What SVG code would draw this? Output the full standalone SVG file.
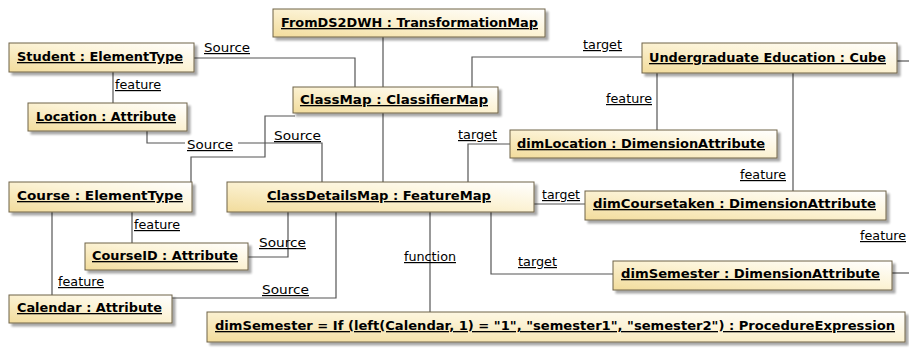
<svg xmlns="http://www.w3.org/2000/svg" width="909" height="348" viewBox="0 0 909 348">
<defs>
<linearGradient id="fill" x1="0" y1="1" x2="1" y2="0">
<stop offset="0" stop-color="#F2DC9C"/>
<stop offset="0.55" stop-color="#FCF3D6"/>
<stop offset="1" stop-color="#FFFFFF"/>
</linearGradient>
<filter id="sh" x="-5%" y="-20%" width="115%" height="160%">
<feOffset in="SourceAlpha" dx="3" dy="3" result="o"/>
<feGaussianBlur in="o" stdDeviation="0.8" result="b"/>
<feComponentTransfer in="b" result="c"><feFuncA type="linear" slope="0.35"/></feComponentTransfer>
<feMerge><feMergeNode in="c"/><feMergeNode in="SourceGraphic"/></feMerge>
</filter>
</defs>
<style>
.box{fill:url(#fill);stroke:#6f6248;stroke-width:1;filter:url(#sh)}
.nt{font-family:"DejaVu Sans",Verdana,sans-serif;font-weight:bold;font-size:13px;fill:#000;text-decoration:underline}
.lb{font-family:"DejaVu Sans",Verdana,sans-serif;font-size:12px;fill:#000;text-decoration:underline}
.cn{fill:none;stroke:#555;stroke-width:1.2}
</style>
<rect x="0" y="0" width="909" height="348" fill="#FFFFFF"/>
<g id="connectors">
<path class="cn" d="M194,58 H355 V87"/>
<path class="cn" d="M113,72 V103"/>
<path class="cn" d="M383,37 V87"/>
<path class="cn" d="M472,87 V57 H642"/>
<path class="cn" d="M657,73 V130"/>
<path class="cn" d="M793,73 V191"/>
<path class="cn" d="M897,61 H909"/>
<path class="cn" d="M383,113 V182"/>
<path class="cn" d="M147,131 V143 H185 M238,143 H322 V182"/>
<path class="cn" d="M295,116 H265 V157 H191 V182"/>
<path class="cn" d="M248,257 H288 V212"/>
<path class="cn" d="M172,298 H336 V212"/>
<path class="cn" d="M132,212 V243"/>
<path class="cn" d="M52,212 V295"/>
<path class="cn" d="M468,182 V144 H510"/>
<path class="cn" d="M534,204 H585"/>
<path class="cn" d="M430,212 V312"/>
<path class="cn" d="M491,212 V274 H613"/>
<path class="cn" d="M892,273 H909"/>
</g>
<g id="labels">
<text class="lb" x="204" y="52" textLength="46" lengthAdjust="spacingAndGlyphs">Source</text>
<text class="lb" x="115" y="89" textLength="46" lengthAdjust="spacingAndGlyphs">feature</text>
<text class="lb" x="187" y="149" textLength="46" lengthAdjust="spacingAndGlyphs">Source</text>
<text class="lb" x="274" y="140" textLength="47" lengthAdjust="spacingAndGlyphs">Source</text>
<text class="lb" x="583" y="49" textLength="39" lengthAdjust="spacingAndGlyphs">target</text>
<text class="lb" x="606" y="103" textLength="46" lengthAdjust="spacingAndGlyphs">feature</text>
<text class="lb" x="458" y="139" textLength="39" lengthAdjust="spacingAndGlyphs">target</text>
<text class="lb" x="542" y="199" textLength="38" lengthAdjust="spacingAndGlyphs">target</text>
<text class="lb" x="740" y="179" textLength="46" lengthAdjust="spacingAndGlyphs">feature</text>
<text class="lb" x="860" y="240" textLength="46" lengthAdjust="spacingAndGlyphs">feature</text>
<text class="lb" x="134" y="229" textLength="46" lengthAdjust="spacingAndGlyphs">feature</text>
<text class="lb" x="259" y="247" textLength="47" lengthAdjust="spacingAndGlyphs">Source</text>
<text class="lb" x="58" y="286" textLength="46" lengthAdjust="spacingAndGlyphs">feature</text>
<text class="lb" x="262" y="294" textLength="47" lengthAdjust="spacingAndGlyphs">Source</text>
<text class="lb" x="404" y="261" textLength="52" lengthAdjust="spacingAndGlyphs">function</text>
<text class="lb" x="518" y="266" textLength="39" lengthAdjust="spacingAndGlyphs">target</text>
</g>
<g id="FromDS2DWH">
<rect class="box" x="273" y="9" width="272" height="28"/>
<text class="nt" x="281" y="27" textLength="257" lengthAdjust="spacingAndGlyphs">FromDS2DWH : TransformationMap</text>
</g>
<g id="Student">
<rect class="box" x="9" y="43" width="185" height="29"/>
<text class="nt" x="17" y="61" textLength="166" lengthAdjust="spacingAndGlyphs">Student : ElementType</text>
</g>
<g id="ClassMap">
<rect class="box" x="293" y="87" width="205" height="26"/>
<text class="nt" x="300" y="104" textLength="188" lengthAdjust="spacingAndGlyphs">ClassMap : ClassifierMap</text>
</g>
<g id="UndergraduateEducation">
<rect class="box" x="642" y="43" width="255" height="30"/>
<text class="nt" x="649" y="62" textLength="237" lengthAdjust="spacingAndGlyphs">Undergraduate Education : Cube</text>
</g>
<g id="Location">
<rect class="box" x="28" y="103" width="159" height="28"/>
<text class="nt" x="36" y="121" textLength="140" lengthAdjust="spacingAndGlyphs">Location : Attribute</text>
</g>
<g id="dimLocation">
<rect class="box" x="510" y="130" width="267" height="28"/>
<text class="nt" x="517" y="148" textLength="248" lengthAdjust="spacingAndGlyphs">dimLocation : DimensionAttribute</text>
</g>
<g id="Course">
<rect class="box" x="9" y="182" width="183" height="30"/>
<text class="nt" x="17" y="200" textLength="166" lengthAdjust="spacingAndGlyphs">Course : ElementType</text>
</g>
<g id="ClassDetailsMap">
<rect class="box" x="227" y="182" width="307" height="30"/>
<text class="nt" x="267" y="200" textLength="224" lengthAdjust="spacingAndGlyphs">ClassDetailsMap : FeatureMap</text>
</g>
<g id="dimCoursetaken">
<rect class="box" x="585" y="191" width="301" height="29"/>
<text class="nt" x="593" y="208" textLength="283" lengthAdjust="spacingAndGlyphs">dimCoursetaken : DimensionAttribute</text>
</g>
<g id="CourseID">
<rect class="box" x="85" y="243" width="163" height="27"/>
<text class="nt" x="92" y="260" textLength="146" lengthAdjust="spacingAndGlyphs">CourseID : Attribute</text>
</g>
<g id="dimSemester">
<rect class="box" x="613" y="261" width="279" height="29"/>
<text class="nt" x="621" y="278" textLength="259" lengthAdjust="spacingAndGlyphs">dimSemester : DimensionAttribute</text>
</g>
<g id="Calendar">
<rect class="box" x="9" y="295" width="163" height="28"/>
<text class="nt" x="17" y="312" textLength="145" lengthAdjust="spacingAndGlyphs">Calendar : Attribute</text>
</g>
<g id="Expression">
<rect class="box" x="207" y="312" width="698" height="30"/>
<text class="nt" x="215" y="330" textLength="680" lengthAdjust="spacingAndGlyphs">dimSemester = If (left(Calendar, 1) = "1", "semester1", "semester2") : ProcedureExpression</text>
</g>
</svg>
